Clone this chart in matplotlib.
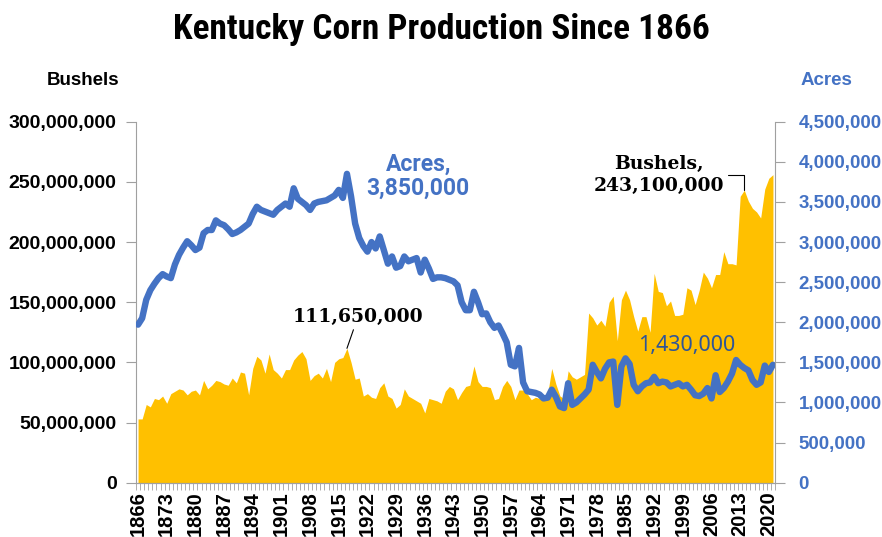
import numpy as np
import matplotlib.pyplot as plt
from matplotlib import font_manager
from matplotlib.ticker import FuncFormatter

# Kentucky corn, 1866-2021
bushels_m = [53, 53, 65, 63, 70, 69, 72, 66, 74, 76,            # 1866-1875
             78, 77, 73, 76, 77, 73, 85, 78, 81, 85,            # 1876-1885
             84, 82, 81, 87, 83, 92, 91, 73, 95, 105,           # 1886-1895
             102, 91, 107, 94, 91, 87, 94, 94, 102, 106,        # 1896-1905
             109, 103, 85, 89, 91, 87, 95, 84, 100, 103,        # 1906-1915
             104, 111.65, 100, 86, 87, 72, 74, 71, 70, 79,      # 1916-1925
             83, 72, 70, 62, 65, 78, 72, 70, 68, 66,            # 1926-1935
             58, 70, 69, 68, 66, 76, 80, 78, 69, 75,            # 1936-1945
             80, 81, 97, 84, 80, 80, 79, 69, 70, 80,            # 1946-1955
             85, 80, 69, 77, 77, 74, 69, 71, 70, 72,            # 1956-1965
             74, 95, 82, 72, 70, 93, 88, 86, 88, 90,            # 1966-1975
             141, 137, 131, 135, 130, 150, 155, 118, 152, 160,  # 1976-1985
             152, 138, 126, 138, 138, 125, 174, 159, 158, 147,  # 1986-1995
             151, 139, 139, 140, 162, 160, 148, 160, 175, 170,  # 1996-2005
             162, 173, 173, 192, 182, 182, 181, 238, 243.1, 234,  # 2006-2015
             228, 225, 220, 244, 253, 256]                      # 2016-2021

acres_m = [1.97, 2.05, 2.28, 2.40, 2.48, 2.55, 2.60, 2.57, 2.55, 2.72,
           2.84, 2.93, 3.01, 2.96, 2.90, 2.93, 3.11, 3.15, 3.15, 3.27,
           3.23, 3.21, 3.16, 3.10, 3.12, 3.15, 3.19, 3.23, 3.35, 3.44,
           3.40, 3.38, 3.36, 3.34, 3.40, 3.44, 3.48, 3.44, 3.67, 3.54,
           3.50, 3.46, 3.40, 3.48, 3.50, 3.51, 3.52, 3.55, 3.58, 3.65,
           3.55, 3.85, 3.57, 3.23, 3.05, 2.95, 2.88, 3.00, 2.92, 3.07,
           2.90, 2.73, 2.82, 2.68, 2.70, 2.82, 2.76, 2.78, 2.80, 2.62,
           2.78, 2.67, 2.54, 2.56, 2.56, 2.55, 2.53, 2.51, 2.46, 2.25,
           2.15, 2.15, 2.38, 2.25, 2.10, 2.11, 2.00, 1.93, 1.96, 1.86,
           1.75, 1.47, 1.45, 1.68, 1.25, 1.14, 1.13, 1.12, 1.10, 1.05,
           1.06, 1.16, 1.07, 0.95, 0.93, 1.24, 0.97, 1.00, 1.05, 1.10,
           1.16, 1.47, 1.38, 1.30, 1.42, 1.50, 1.51, 0.97, 1.45, 1.55,
           1.48, 1.22, 1.14, 1.20, 1.24, 1.25, 1.32, 1.24, 1.26, 1.25,
           1.20, 1.22, 1.24, 1.20, 1.22, 1.16, 1.09, 1.08, 1.11, 1.18,
           1.05, 1.34, 1.13, 1.18, 1.26, 1.36, 1.53, 1.47, 1.43, 1.40,
           1.28, 1.22, 1.25, 1.46, 1.38, 1.47]

years = np.arange(1866, 1866 + len(bushels_m))
bushels = np.array(bushels_m) * 1e6
acres = np.array(acres_m) * 1e6

gold = '#FFC000'
blue = '#4472C4'
grey = '#A0A0A0'

plt.rcParams['font.family'] = ['Liberation Sans', 'DejaVu Sans']
plt.rcParams['font.weight'] = 'bold'

# pick a narrow face for the title if one is installed
installed = {f.name for f in font_manager.fontManager.ttflist}
title_font, title_size = 'Liberation Sans', 21.5
for name in ('Liberation Sans Narrow', 'Arial Narrow', 'Roboto Condensed', 'Open Sans Condensed'):
    if name in installed:
        title_font, title_size = name, 25.5
        break

# a face with a real bold for the blue labels
bold_faces = {f.name for f in font_manager.fontManager.ttflist if f.weight in (700, 'bold')}
label_font = 'Liberation Sans'
for name in ('Roboto', 'Open Sans', 'Lato', 'Noto Sans'):
    if name in bold_faces:
        label_font = name
        break

fig = plt.figure(figsize=(8.82, 5.37), dpi=100)
ax = fig.add_axes([136 / 882, 1 - 482.7 / 537, 639 / 882, 361 / 537])

# bushels area
ax.fill_between(years, bushels, 0, color=gold, linewidth=0)
ax.set_xlim(1865.5, 2021.5)
ax.set_ylim(0, 300e6)

# acres line on the right axis
ax2 = ax.twinx()
ax2.plot(years, acres, color=blue, lw=4.6, solid_joinstyle='round', solid_capstyle='round')
ax2.set_ylim(0, 4.5e6)

comma = FuncFormatter(lambda v, p: f'{v:,.0f}')
ax.set_yticks(np.arange(0, 300e6 + 1, 50e6))
ax.yaxis.set_major_formatter(comma)
ax2.set_yticks(np.arange(0, 4.5e6 + 1, 0.5e6))
ax2.yaxis.set_major_formatter(comma)

ax.set_xticks(np.arange(1866, 2021, 7))
ax.set_xticks(np.arange(1865.5, 2022, 1), minor=True)
for lab in ax.set_xticklabels([str(y) for y in range(1866, 2021, 7)]):
    lab.set_rotation(90)

ax.tick_params(axis='x', which='major', length=0, pad=6, labelsize=14.5)
ax.tick_params(axis='x', which='minor', length=5, color=grey)
ax.tick_params(axis='y', length=7, color=grey, pad=7, labelsize=14)
ax2.tick_params(axis='y', length=7, color=grey, pad=10, labelsize=13.5, labelcolor=blue)

for a in (ax, ax2):
    a.spines['top'].set_visible(False)
    for s in ('left', 'right', 'bottom'):
        a.spines[s].set_color(grey)
ax.spines['right'].set_visible(False)
ax2.spines['left'].set_visible(False)

# titles
fig.text(441 / 882, 1 - 30 / 537, 'Kentucky Corn Production Since 1866',
         ha='center', va='center', fontsize=title_size, family=title_font)
fig.text(83 / 882, 1 - 80 / 537, 'Bushels', ha='center', va='center', fontsize=13.5)
fig.text(826 / 882, 1 - 80 / 537, 'Acres', ha='center', va='center', fontsize=13.5, color=blue)

# labels
ax.text(1934.4, 254.9e6, 'Acres,\n3,850,000', ha='center', va='center', color=blue,
        family=label_font, fontweight='bold', fontsize=16.5, linespacing=1.05)
ax.text(2000, 114.4e6, '1,430,000', ha='center', va='center', color='#2F5597',
        family=['Noto Sans', 'DejaVu Sans'], fontweight='normal', fontsize=15.5)
ax.annotate('111,650,000', xy=(1917, 111.65e6), xytext=(1919.7, 138e6),
            ha='center', va='center', family='DejaVu Serif', fontsize=13.5,
            arrowprops=dict(arrowstyle='-', color='black', lw=0.8, shrinkA=1, shrinkB=0))
ax.annotate('Bushels,\n243,100,000', xy=(2014, 243.1e6), xytext=(1993.2, 255.7e6),
            ha='center', va='center', family='DejaVu Serif', fontsize=13.5, linespacing=1.25,
            arrowprops=dict(arrowstyle='-', color='black', lw=0.8, shrinkA=1, shrinkB=0,
                            relpos=(1, 0.5),
                            connectionstyle='angle,angleA=0,angleB=90,rad=0'))

fig.savefig('out.png', dpi=100)
